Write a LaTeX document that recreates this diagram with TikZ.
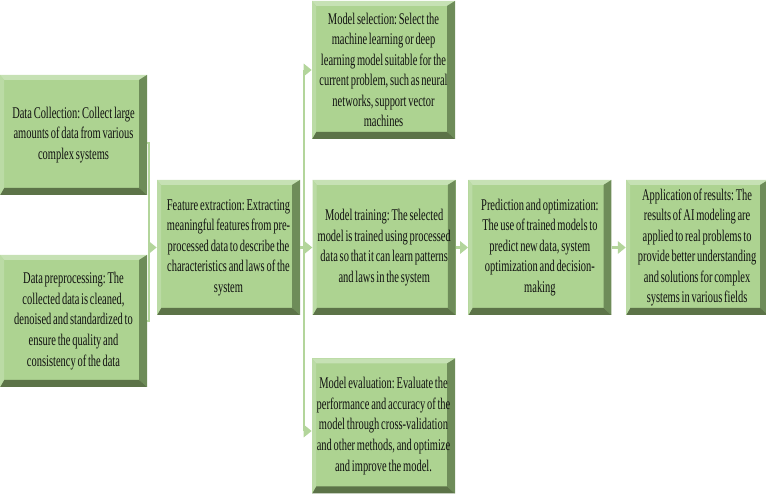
\documentclass[tikz,border=0pt]{standalone}
\usepackage{fontspec}
\setmainfont{Liberation Serif}[FakeStretch=0.64, WordSpace=0.68]
\usepackage{xcolor}
\usepackage{tikz}
\usetikzlibrary{arrows.meta,positioning}
\frenchspacing
\definecolor{faceg}{HTML}{ADD391}
\definecolor{topg}{HTML}{C6E1B4}
\definecolor{leftg}{HTML}{BBDBA5}
\definecolor{rightg}{HTML}{6E8C59}
\definecolor{botg}{HTML}{5C7348}
\definecolor{lineg}{HTML}{B3D59B}
\definecolor{textg}{HTML}{101010}
\tikzstyle{stage} = [rectangle, fill=faceg, inner sep=0pt, minimum width=2.86cm, minimum height=2.70cm, align=center, text=textg, font=\fontsize{9.3}{11.7}\selectfont,
  path picture={
    \path (path picture bounding box.north west) coordinate (bnw)
          (path picture bounding box.north east) coordinate (bne)
          (path picture bounding box.south west) coordinate (bsw)
          (path picture bounding box.south east) coordinate (bse);
    \fill[topg] (bnw) -- (bne) -- ([xshift=-4.5pt,yshift=-2.8pt]bne) -- ([xshift=2.3pt,yshift=-2.8pt]bnw) -- cycle;
    \fill[rightg] (bne) -- (bse) -- ([xshift=-4.5pt,yshift=4pt]bse) -- ([xshift=-4.5pt,yshift=-2.8pt]bne) -- cycle;
    \fill[botg] (bse) -- (bsw) -- ([xshift=2.3pt,yshift=4pt]bsw) -- ([xshift=-4.5pt,yshift=4pt]bse) -- cycle;
    \fill[leftg] (bsw) -- (bnw) -- ([xshift=2.3pt,yshift=-2.8pt]bnw) -- ([xshift=2.3pt,yshift=4pt]bsw) -- cycle;
  }]
\tikzstyle{link} = [draw=lineg, line width=1.4pt]
\tikzstyle{flow} = [draw=lineg, line width=1.6pt, -{Triangle[width=7pt,length=4.5pt]}]

\begin{document}
\begin{tikzpicture}
\useasboundingbox (0,0) rectangle (15.32,-9.88);
\node[stage, minimum width=2.94cm, minimum height=2.40cm] (collect) at (1.47,-2.70) {Data Collection: Collect large\\amounts of data from various\\complex systems};
\node[stage, minimum width=2.94cm, minimum height=2.64cm] (preproc) at (1.47,-6.42) {Data preprocessing: The\\collected data is cleaned,\\denoised and standardized to\\ensure the quality and\\consistency of the data};
\node[stage] (feature) at (4.57,-4.95) {Feature extraction: Extracting\\meaningful features from pre-\\processed data to describe the\\characteristics and laws of the\\system};
\node[stage, right=0.24cm of feature] (train) {Model training: The selected\\model is trained using processed\\data so that it can learn patterns\\and laws in the system};
\node[stage, minimum height=2.76cm] (select) at (7.67,-1.40) {Model selection: Select the\\machine learning or deep\\learning model suitable for the\\current problem, such as neural\\networks, support vector\\machines};
\node[stage] (evaluate) at (7.67,-8.52) {Model evaluation: Evaluate the\\performance and accuracy of the\\model through cross-validation\\and other methods, and optimize\\and improve the model.};
\node[stage, right=0.24cm of train] (predict) {Prediction and optimization:\\The use of trained models to\\predict new data, system\\optimization and decision-\\making};
\node[stage, minimum width=2.84cm, right=0.28cm of predict] (apply) {Application of results: The\\results of AI modeling are\\applied to real problems to\\provide better understanding\\and solutions for complex\\systems in various fields};

% merge of the two data boxes
\coordinate (merge) at (2.98,-4.95);
\draw[link] ([yshift=-0.16cm]collect.east) -| (merge) |- (preproc.east);
\draw[flow] (merge) -- (feature.west);

% split to the three model boxes
\coordinate (split) at (6.08,-4.95);
\draw[link] (select.west -| split) -- ([yshift=-0.1cm]evaluate.west -| split);
\draw[flow] (select.west -| split) -- (select.west);
\draw[flow] ([yshift=-0.1cm]evaluate.west -| split) -- ([yshift=-0.1cm]evaluate.west);
\draw[flow] (feature.east) -- (train.west);
\draw[flow] (train) -- (predict);
\draw[flow] (predict) -- (apply);
\end{tikzpicture}
\end{document}
